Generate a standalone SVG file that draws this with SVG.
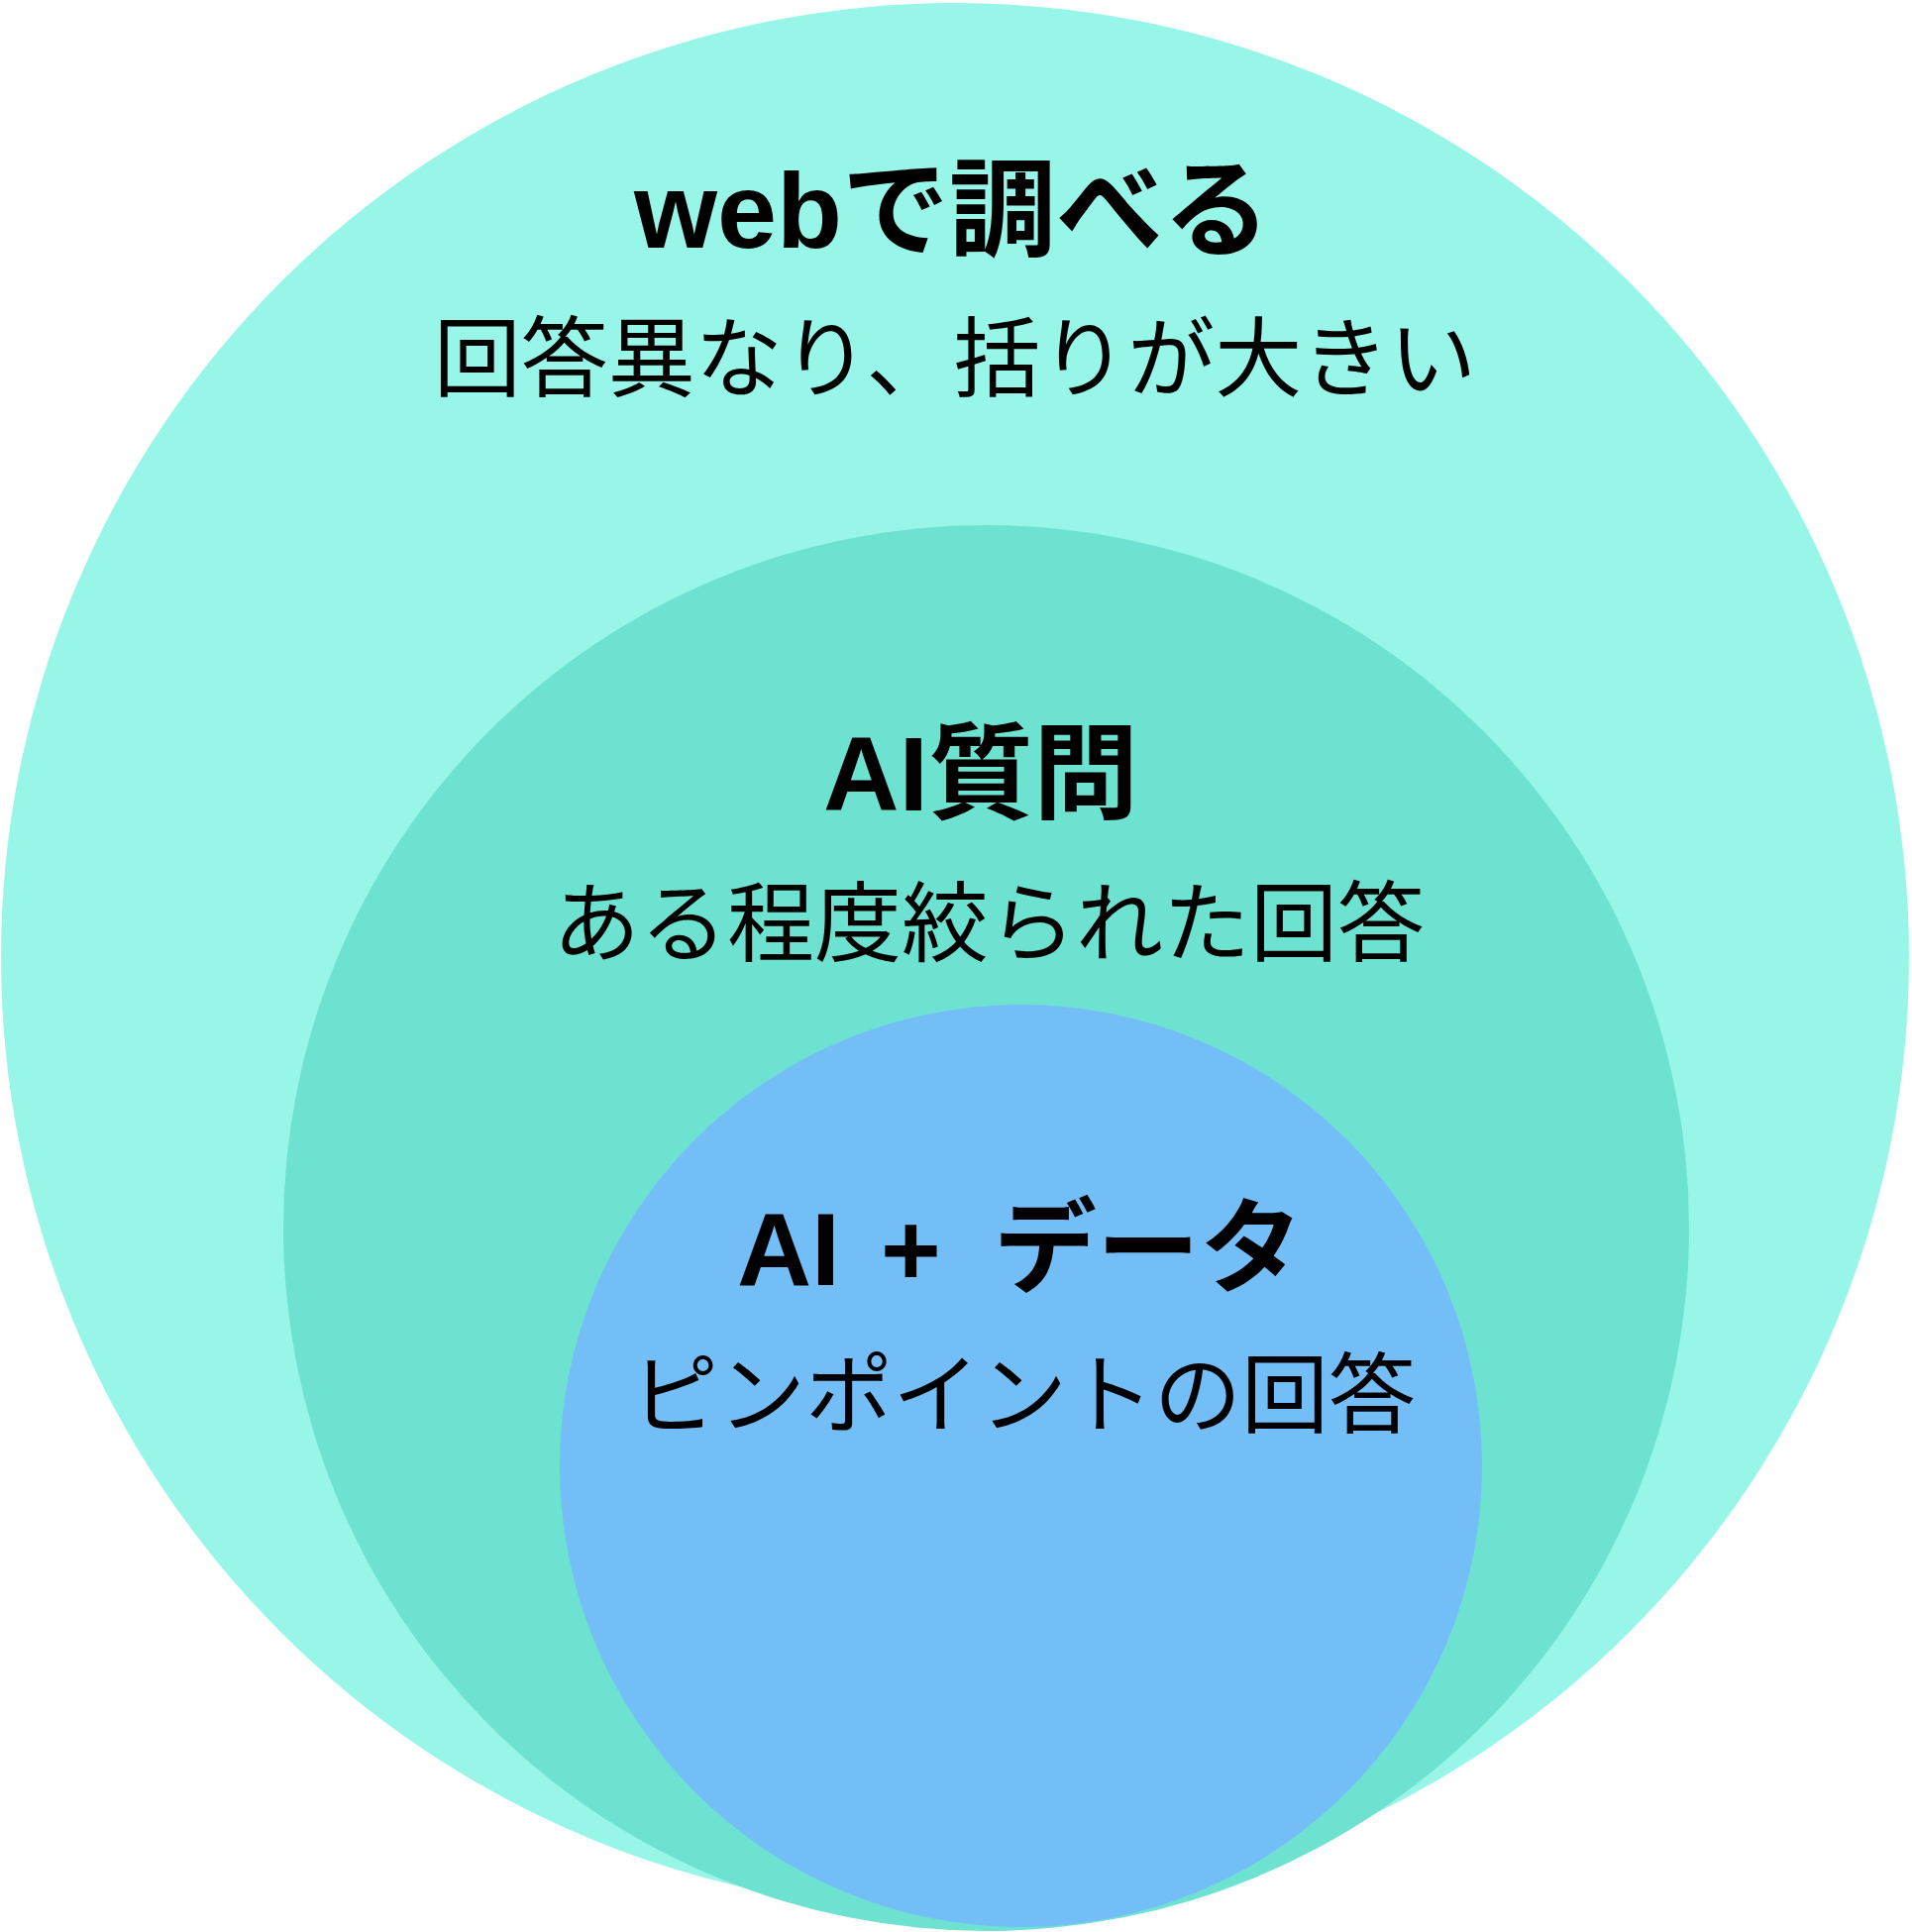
<svg xmlns="http://www.w3.org/2000/svg" width="1930" height="1950" viewBox="0 0 1930 1950">
<style>
.t{font-family:"Liberation Sans","Noto Sans CJK JP",sans-serif;font-weight:bold;font-size:104px;fill:#000}
.s{font-family:"Noto Sans CJK JP",sans-serif;font-weight:normal;font-size:88px;fill:#000}
</style>
<rect width="1930" height="1950" fill="#ffffff"/>
<g id="outer">
<circle cx="964" cy="966" r="963" fill="#98F6E9"/>
</g>
<g id="middle">
<circle cx="995.5" cy="1239.5" r="709.5" fill="#6EE2D0"/>
</g>
<g id="inner">
<circle cx="1030.5" cy="1479.5" r="465.5" fill="#74BEF8"/>
</g>
<g id="label-web">
<text class="t" x="961" y="250" text-anchor="middle" style="font-size:108px">webで調べる</text>
<text class="s" x="964" y="393" text-anchor="middle">回答異なり、括りが大きい</text>
</g>
<g id="label-ai">
<text class="t" x="990" y="818" text-anchor="middle" style="font-size:106px">AI質問</text>
<text class="s" x="998" y="963" text-anchor="middle">ある程度絞られた回答</text>
</g>
<g id="label-aidata">
<text class="t" x="744" y="1297">AI</text>
<text class="t" x="889" y="1297">+</text>
<text class="t" x="1003" y="1297">データ</text>
<text class="s" x="1033" y="1439" text-anchor="middle">ピンポイントの回答</text>
</g>
<g id="connectors"></g>
</svg>
